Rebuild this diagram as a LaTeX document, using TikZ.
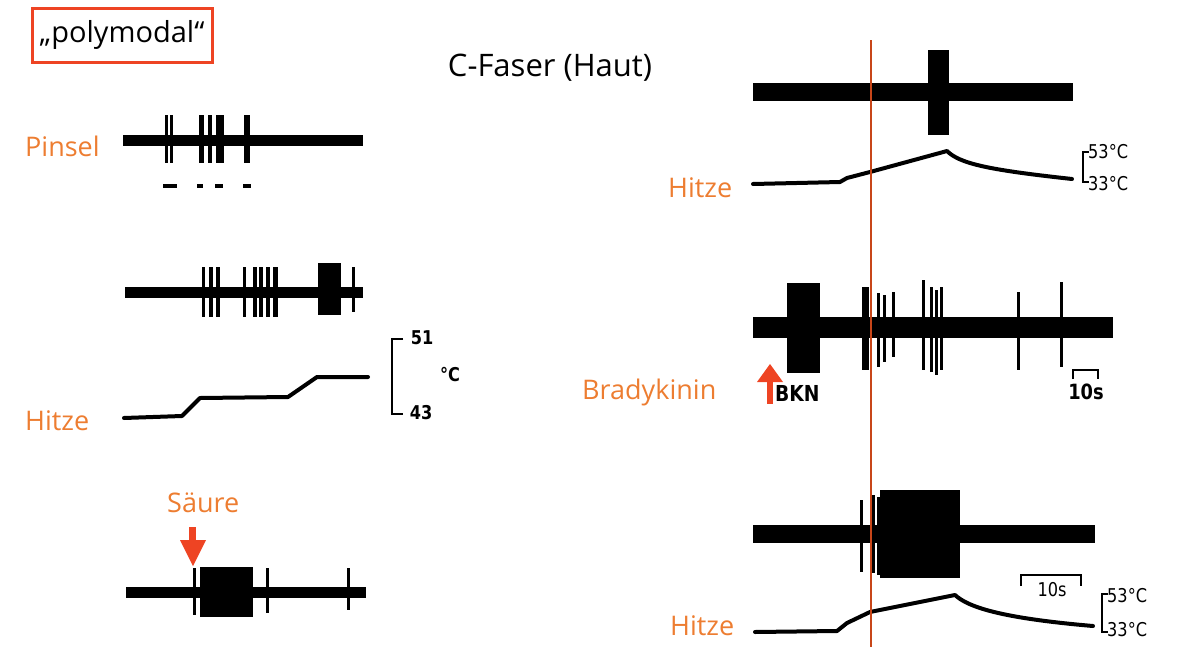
\documentclass[tikz,border=0pt]{standalone}
\usepackage{fontspec}
\setmainfont{Open Sans}
\newfontfamily\numfont[FakeStretch=0.85]{DejaVu Sans}
\definecolor{lblorange}{RGB}{237,125,49}
\definecolor{boxred}{RGB}{238,68,35}
\definecolor{markline}{RGB}{200,70,25}
\begin{document}
\begin{tikzpicture}[
    x=1pt, y=-1pt,
    lbl/.style={text=lblorange, font=\fontsize{27}{30}\selectfont, inner sep=0pt},
    head/.style={font=\fontsize{29}{32}\selectfont, inner sep=0pt},
    scl/.style={font=\numfont\fontsize{19}{20}\selectfont, inner sep=0pt},
    sclb/.style={font=\numfont\bfseries\fontsize{19}{20}\selectfont, inner sep=0pt},
    trace/.style={fill=black},
    temp/.style={line width=4pt, line join=round, line cap=round},
    brk/.style={line width=2pt},
    stim/.style={fill=boxred}
]
\useasboundingbox (0,0) rectangle (1200,651);

% titles
\node[head, draw=boxred, line width=3pt, minimum width=180pt, minimum height=54pt] (poly) at (122,35) {„polymodal“};
\node[head, font=\fontsize{31}{34}\selectfont] (cfaser) at (550,68) {C-Faser (Haut)};

% left column
\node[lbl, anchor=base west] (pinsel) at (25,156) {Pinsel};
\node[lbl, anchor=base west] (hitzeL) at (25,430) {Hitze};
\node[lbl, anchor=base west] (saeure) at (167,512) {Säure};

\fill[trace] (123,135) rectangle (363,146);
\foreach \x/\w in {165/3, 170/3, 199/5, 208/4, 216/8, 244/6}
    \fill[trace] (\x,115) rectangle ++(\w,48);
\foreach \x/\w in {163/14, 197/6, 215/8, 243/8}
    \fill[trace] (\x,184) rectangle ++(\w,4);

\fill[trace] (125,287) rectangle (363,298);
\foreach \x/\w in {202/3, 209/4, 216/4, 243/3, 253/4, 259/4, 266/4, 273/5}
    \fill[trace] (\x,267) rectangle ++(\w,50);
\fill[trace] (318,263) rectangle (341,315);
\fill[trace] (352,267) rectangle ++(2.5,45);

\draw[temp] (124,418) -- (182,416) -- (200,398) -- (288,397) -- (317,377) -- (368,377);
\draw[brk] (403,339) -- (392,339) -- (392,414) -- (403,414);
\node[sclb] (t51) at (422,338) {51};
\node[sclb] (t43) at (421,413) {43};
\node[sclb] (degC) at (450,375) {°C};

\fill[stim] (189,527) rectangle (196,541);
\fill[stim] (180,540) -- (206,540) -- (193,566) -- cycle;
\fill[trace] (126,587) rectangle (366,598);
\fill[trace] (200,567) rectangle (253,617);
\foreach \x/\h in {194/47, 267/45, 348/42}
    \fill[trace] (\x-1,568) rectangle ++(2.5,\h);

% right column
\node[lbl, anchor=base west] (hitzeA) at (668,197) {Hitze};
\node[lbl, anchor=base west] (brady) at (582,399) {Bradykinin};
\node[lbl, anchor=base west] (hitzeB) at (670,635) {Hitze};

\fill[trace] (753,83) rectangle (1073,101);
\fill[trace] (928,50) rectangle (949,135);
\draw[temp] (753,184) -- (840,182) -- (847,178) -- (870,172) -- (947,151)
    .. controls (960,164) and (990,170) .. (1072,179);
\draw[brk] (1089,152) -- (1083,152) -- (1083,182) -- (1089,182);
\node[scl, anchor=west] (t53a) at (1088,152) {53°C};
\node[scl, anchor=west] (t33a) at (1088,184) {33°C};

\fill[trace] (753,317) rectangle (1113,338);
\fill[trace] (787,283) rectangle (820,373);
\fill[trace] (862,287) rectangle (869,370);
\foreach \x/\t/\b in {877/293/367, 883/295/362, 892/292/357, 922/280/370, 930/287/372,
    935/290/375, 940/287/370, 1017/292/370, 1060/282/367}
    \fill[trace] (\x,\t) rectangle (\x+2.5,\b);
\fill[stim] (767,380) rectangle (773,404);
\fill[stim] (757,382) -- (783,382) -- (770,364) -- cycle;
\node[sclb, font=\numfont\bfseries\fontsize{22}{24}\selectfont, anchor=west] (bkn) at (775,393) {BKN};
\draw[brk, line width=2.5pt] (1073,379) -- (1073,370) -- (1098,370) -- (1098,379);
\node[sclb, font=\numfont\bfseries\fontsize{21}{24}\selectfont] (secA) at (1086,392) {10s};

\fill[trace] (753,525) rectangle (1095,543);
\fill[trace] (880,490) rectangle (960,578);
\foreach \x/\t/\b in {860/500/572, 872/495/573, 877/497/575}
    \fill[trace] (\x,\t) rectangle (\x+2.5,\b);
\draw[temp] (755,632) -- (837,631) -- (847,623) -- (870,612) -- (955,595)
    .. controls (968,607) and (1000,618) .. (1093,626);
\draw[brk] (1021,586) -- (1021,575) -- (1081,575) -- (1081,586);
\node[scl] (secB) at (1052,590) {10s};
\draw[brk] (1108,594) -- (1102,594) -- (1102,632) -- (1108,632);
\node[scl, anchor=west] (t53b) at (1107,596) {53°C};
\node[scl, anchor=west] (t33b) at (1107,630) {33°C};

\draw[markline, line width=2pt] (871,40) -- (871,647);
\end{tikzpicture}
\end{document}
